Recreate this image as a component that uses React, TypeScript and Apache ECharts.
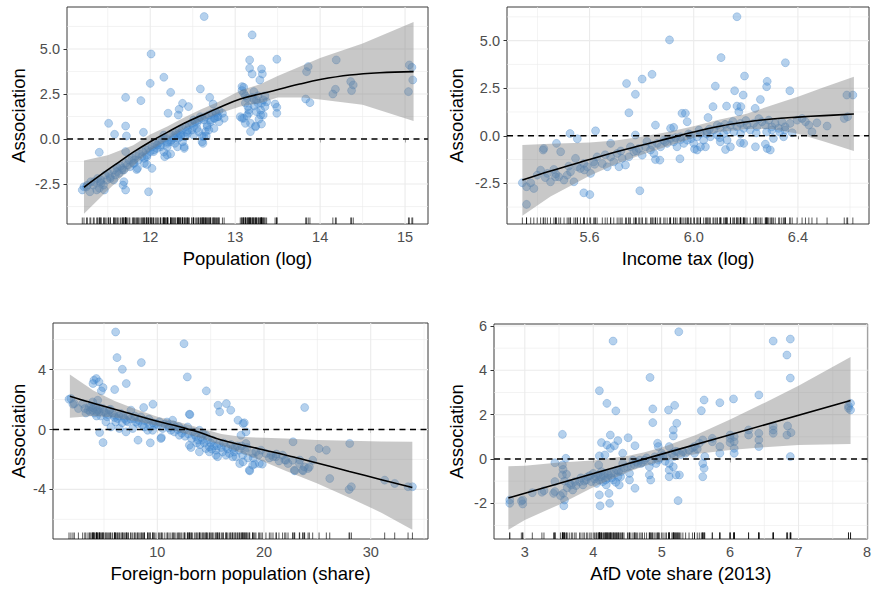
import React, { useEffect, useRef } from "react";
import * as echarts from "echarts";

type Pt = [number, number];

// ---------- Panel 1: Population (log) ----------
const popPoints: Pt[] = [
  [11.2, -2.83], [11.22, -2.65], [11.3, -2.37], [11.4, -2.74], [11.46, -2.83], [11.49, -2.28], [11.53, -2.09],
  [11.61, -1.81], [11.67, -1.63], [11.73, -1.44], [11.69, -2.37], [11.71, -2.83], [11.81, -1.17], [11.85, -1.63],
  [11.93, -1.35], [11.96, -0.98], [12.02, -1.63], [11.98, -2.93], [12.04, -0.61], [12.08, -0.33], [12.16, -0.71],
  [12.2, -0.43], [12.24, -0.15], [12.2, -0.89], [12.32, -0.43], [12.4, -0.43], [12.38, -0.15], [12.36, 0.13],
  [12.44, 0.31], [12.49, 0.5], [12.55, 0.59], [12.61, -0.15], [12.63, 0.13], [12.67, 0.68], [12.71, 1.06],
  [12.75, 1.15], [12.79, 1.24], [12.81, 0.96], [12.65, 0.41], [12.51, 0.22], [12.32, 0.22], [12.16, 0.22],
  [12.635, 6.8], [13.2, 5.78], [12.01, 4.72], [12.0, 3.09], [12.16, 3.43], [12.24, 2.59], [11.89, 2.13],
  [11.71, 2.31], [12.59, 2.78], [12.7, 2.31], [12.38, 1.98], [12.34, 1.65], [12.45, 1.8], [12.33, 1.33],
  [12.21, 1.43], [12.74, 1.94], [11.51, 0.87], [11.71, 0.72], [11.58, 0.26], [11.72, 0.17], [11.92, 0.37],
  [11.4, -0.74], [11.71, -0.7], [11.68, -2.56], [11.84, -1.69], [11.96, -1.41], [12.16, 0.04], [12.17, -0.98],
  [12.24, -0.83], [12.4, -0.52], [12.62, -0.24], [12.61, 0.17], [12.66, 0.17],
  [13.08, 2.91], [13.1, 2.54], [13.22, 2.17], [13.27, 1.98], [13.16, 1.43], [13.08, 1.15], [13.18, 0.87],
  [13.24, 0.68], [13.3, 1.33], [13.18, 0.41], [13.08, 2.69], [13.1, 2.87], [13.17, 3.93], [13.17, 4.39],
  [13.2, 3.61], [13.29, 3.28], [13.31, 3.89], [13.32, 3.61], [13.22, 2.63], [13.14, 2.26], [13.25, 2.17],
  [13.33, 2.17], [13.37, 2.07], [13.31, 1.98], [13.22, 1.83], [13.16, 1.61], [13.1, 1.15], [13.06, 1.24],
  [13.12, 0.87], [13.24, 0.72], [13.31, 0.83], [13.33, 1.33], [13.25, 1.52], [13.49, 4.43], [13.47, 1.94],
  [13.49, 1.76], [13.49, 1.43], [13.84, 3.74], [13.86, 4.02], [13.83, 2.22], [13.88, 2.02], [14.19, 4.39],
  [14.18, 2.76], [14.15, 2.5], [14.36, 3.19], [14.39, 3.0], [14.37, 2.69], [15.05, 4.11], [15.08, 3.98],
  [15.09, 3.28], [15.04, 2.63],
  [12.51, 1.06], [12.55, 0.87], [12.59, 1.24], [12.63, 1.06], [12.67, 0.78], [12.71, 0.96], [12.76, 1.15],
  [12.78, 1.43], [12.8, 1.24], [12.43, 0.41], [12.41, 0.13], [12.57, 0.41], [12.69, 0.5], [12.75, 0.59],
  [11.25, -2.65], [11.33, -2.56], [11.41, -2.37], [11.45, -2.56], [11.59, -2.0], [11.63, -1.91], [11.67, -1.72],
  [11.37, -2.83], [11.29, -2.93], [11.57, -2.28], [11.76, -1.54], [11.8, -1.35], [11.86, -1.17], [11.9, -0.98],
  [11.96, -0.89], [12.0, -0.7], [12.08, -0.52], [12.12, -0.33], [12.2, -0.15], [12.25, -0.06], [12.29, -0.24],
  [12.33, 0.04], [12.35, 0.31], [12.27, 0.13],
  [11.26, -2.56], [11.34, -2.37], [11.38, -2.19], [11.42, -2.28], [11.47, -2.0], [11.51, -1.91], [11.57, -1.72],
  [11.61, -1.57], [11.65, -1.5], [11.71, -1.35], [11.75, -1.17], [11.79, -1.07], [11.83, -0.94], [11.87, -0.83],
  [11.91, -0.7], [11.95, -0.61], [11.98, -0.52], [12.02, -0.43], [12.06, -0.28], [12.1, -0.2], [12.14, -0.06],
  [12.18, 0.04], [12.26, 0.22], [12.3, 0.32], [12.34, 0.5], [12.38, 0.54], [12.42, 0.69], [12.46, 0.78],
  [12.49, 0.87], [12.53, 0.96], [12.57, 1.06], [12.61, 1.15], [12.65, 1.24], [12.69, 1.33], [12.73, 1.43],
  [12.77, 1.5], [12.81, 1.57], [12.85, 1.43], [12.87, 1.15], [12.51, 0.69], [12.44, 0.5], [12.36, 0.22],
  [12.28, 0.04], [12.2, -0.24], [12.12, -0.43], [12.04, -0.7], [11.93, -1.07], [11.81, -1.35], [11.69, -1.72],
  [11.53, -2.19], [11.42, -2.46],
  [13.12, 2.0], [13.15, 1.8], [13.2, 2.3], [13.27, 2.4], [13.35, 1.8], [13.3, 1.6], [13.14, 1.3], [13.28, 1.1],
  [13.35, 2.4], [13.12, 2.4],
];
const popFitX = [11.22, 11.4, 11.61, 11.8, 12.0, 12.2, 12.4, 12.6, 12.79, 13.06, 13.38, 13.76, 14.0, 14.35, 14.7, 15.1];
const popFit = [-2.68, -2.05, -1.35, -0.73, -0.15, 0.37, 0.87, 1.3, 1.7, 2.22, 2.6, 3.05, 3.3, 3.55, 3.68, 3.74];
const popBandX = [11.22, 11.5, 11.8, 12.0, 12.2, 12.4, 12.6, 12.8, 13.06, 13.3, 13.5, 13.8, 14.0, 14.5, 15.1];
const popLower = [-4.15, -2.85, -1.5, -0.65, -0.05, 0.55, 1.0, 1.4, 1.8, 2.0, 2.3, 2.3, 2.2, 1.9, 1.0];
const popUpper = [-1.2, -0.9, -0.35, 0.25, 0.7, 1.2, 1.65, 2.05, 2.7, 3.05, 3.5, 4.1, 4.5, 5.3, 6.5];
const popXTicks = [12, 13, 14, 15];
const popXMinor = [11.5, 12.5, 13.5, 14.5];
const popYTicks = [-2.5, 0, 2.5, 5];
const popYMinor = [-3.75, -1.25, 1.25, 3.75, 6.25];

// ---------- Panel 2: Income tax (log) ----------
const taxPoints: Pt[] = [
  [6.166, 6.26], [5.907, 5.04], [6.105, 4.11], [6.352, 3.84], [5.84, 3.23], [5.802, 2.98], [5.742, 2.75],
  [5.776, 2.18], [5.751, 1.21], [6.195, 3.14], [6.157, 2.37], [6.19, 2.14], [6.282, 2.86], [6.28, 2.58],
  [6.256, 1.91], [6.083, 2.61], [6.369, 2.37], [6.588, 2.14], [6.611, 2.14], [6.074, 1.53], [6.126, 1.56],
  [6.166, 1.56], [6.181, 1.53], [6.173, 1.26], [5.955, 1.18], [5.968, 1.18], [5.975, 0.74], [6.055, 0.96],
  [6.236, 1.44], [5.853, 0.56], [5.911, 0.39], [5.923, 0.44], [5.776, 0.04], [5.623, 0.26], [5.525, 0.12],
  [5.553, -0.16], [5.473, -0.4], [5.424, -0.67], [5.422, -0.75], [5.489, -0.84], [5.342, -2.47], [5.358, -2.68],
  [5.386, -2.77], [5.358, -3.61], [5.578, -3.0], [5.601, -3.09], [5.793, -2.89], [5.947, -1.21], [6.045, -0.58],
  [6.003, -0.7], [5.853, -1.25], [5.87, -1.28], [6.122, -0.72], [6.179, -0.37], [6.192, -0.4], [6.237, -0.58],
  [6.275, -0.44], [6.282, -0.67], [6.294, -0.75], [6.378, 0.16], [6.454, 0.21],
  [5.412, -1.81], [5.438, -1.98], [5.463, -1.77], [5.482, -2.16], [5.502, -2.33], [5.514, -2.07], [5.527, -1.89],
  [5.54, -2.42], [5.553, -1.63], [5.565, -1.72], [5.546, -1.19], [5.578, -1.46], [5.591, -1.63], [5.604, -1.98],
  [5.616, -1.37], [5.629, -1.11], [5.649, -1.46], [5.668, -1.63], [5.681, -1.11], [5.693, -1.37], [5.706, -0.93],
  [5.713, -1.63], [5.725, -1.19], [5.738, -1.54], [5.751, -1.11], [5.757, -0.58], [5.77, -0.84], [5.789, -0.67],
  [5.802, -1.02], [5.815, -0.58], [5.834, -0.75], [5.847, -0.93], [5.86, -0.4], [5.873, -0.58], [5.885, -0.23],
  [5.898, -0.4], [5.911, -0.14], [5.923, -0.32], [5.936, -0.58], [5.949, -0.05], [5.962, -0.4], [5.975, -0.23],
  [5.987, 0.04], [6.0, -0.4], [6.013, -0.05], [6.026, 0.12], [6.038, -0.23], [6.051, 0.21], [6.064, -0.05],
  [6.077, 0.3], [6.09, 0.04], [6.102, 0.47], [6.115, 0.12], [6.128, 0.3], [6.141, 0.56], [6.154, 0.21],
  [6.166, 0.47], [6.179, 0.65], [6.192, 0.39], [6.205, 0.56], [6.217, 0.3], [6.23, 0.65], [6.243, 0.47],
  [6.262, 0.74], [6.275, 0.56], [6.288, 0.82], [6.3, 0.47], [6.313, 0.65], [6.326, 0.39], [6.338, 0.74],
  [6.351, 0.47], [6.37, 0.65], [6.397, 0.82], [6.416, 0.91], [6.429, 0.74], [6.442, 0.56], [6.473, 0.68],
  [6.512, 0.51], [6.578, 0.91], [6.591, 1.0], [5.374, -2.47], [5.399, -2.07], [5.45, -2.42], [5.469, -2.16],
  [5.681, -0.4], [6.306, -0.14], [6.345, -0.05], [6.128, -0.23], [6.141, -0.58], [6.102, -0.32], [6.013, -0.75],
  [6.026, -0.58],
  [5.95, -0.2], [5.98, 0.1], [6.02, 0.3], [6.06, 0.35], [6.09, 0.55], [6.12, 0.6], [6.15, 0.75], [6.2, 0.8],
  [6.25, 0.9], [6.3, 0.3], [6.33, 0.2], [6.18, 0.1], [6.1, -0.1], [6.05, 0.1], [5.99, -0.15], [5.93, -0.1],
  [5.89, -0.3], [5.84, -0.5], [5.82, -0.3], [5.78, -0.8], [5.72, -0.8], [5.66, -1.0], [5.62, -1.5], [5.58, -1.8],
  [5.52, -1.6], [5.47, -2.0], [5.43, -2.2], [6.35, 0.3], [6.28, 0.2], [6.24, 0.15],
];
const taxFitX = [5.342, 5.45, 5.6, 5.7, 5.8, 5.9, 6.0, 6.1, 6.2, 6.3, 6.4, 6.5, 6.615];
const taxFit = [-2.33, -1.85, -1.25, -0.85, -0.5, -0.15, 0.2, 0.5, 0.72, 0.88, 0.98, 1.06, 1.14];
const taxBandX = [5.342, 5.45, 5.6, 5.7, 5.8, 5.9, 6.0, 6.1, 6.2, 6.3, 6.4, 6.5, 6.615];
const taxLower = [-4.2, -3.2, -2.1, -1.5, -1.0, -0.55, -0.1, 0.2, 0.35, 0.35, 0.1, -0.3, -0.8];
const taxUpper = [-0.48, -0.42, -0.35, -0.25, -0.05, 0.2, 0.5, 0.85, 1.15, 1.6, 2.05, 2.55, 3.1];
const taxXTicks = [5.6, 6.0, 6.4];
const taxXMinor = [5.4, 5.8, 6.2, 6.6];
const taxYTicks = [-2.5, 0, 2.5, 5];
const taxYMinor = [-3.75, -1.25, 1.25, 3.75, 6.25];

// ---------- Panel 3: Foreign-born population (share) ----------
const forPoints: Pt[] = [
  [6.09, 6.51], [6.22, 4.8], [6.72, 4.02], [8.5, 4.47], [7.09, 3.07], [6.0, 2.67], [12.5, 5.73], [12.81, 3.51],
  [14.59, 2.58], [13.0, 1.02], [13.05, 1.0], [15.69, 1.62], [16.47, 1.73], [15.84, 1.18], [16.88, 1.29],
  [23.81, 1.47], [17.56, 0.62], [18.03, 0.4], [22.72, -0.82], [28.03, -0.93], [25.16, -1.27], [25.84, -1.38],
  [26.16, -3.27], [27.97, -4.0], [28.19, -3.82], [31.31, -3.38], [32.25, -3.6], [33.5, -3.82], [33.91, -3.82],
  [4.91, -0.87], [4.59, -0.2], [8.19, -0.71], [9.34, -0.89], [10.38, -0.53], [8.72, 1.47], [9.59, 1.69],
  [1.72, 2.02], [2.09, 1.69], [4.06, 3.29], [4.28, 3.4], [3.97, 3.07], [4.53, 3.18], [4.91, 2.8], [4.75, 2.58],
  [23.34, -2.04], [23.66, -2.76], [24.13, -2.6], [22.88, -2.76], [22.25, -2.27], [17.72, -2.27], [18.03, -2.16],
  [18.66, -2.76], [19.13, -2.31], [19.84, -2.31], [20.84, -1.82], [21.16, -1.64], [21.94, -2.04],
  [1.9, 2.07], [2.22, 1.73], [3.0, 1.73], [3.63, 1.51], [3.94, 1.29], [4.25, 1.51], [4.56, 1.17], [4.87, 1.4],
  [5.18, 1.07], [5.5, 1.29], [5.97, 0.95], [6.28, 0.73], [6.59, 1.07], [6.91, 0.73], [7.22, 0.51], [7.53, 1.29],
  [7.84, 0.73], [8.15, 0.4], [8.46, 0.84], [8.78, 0.17], [9.09, 0.51], [9.72, 0.29], [10.19, 0.51], [10.5, 0.07],
  [10.97, 0.29], [11.43, 0.62], [11.74, 0.17], [12.06, -0.38], [12.53, -0.05], [12.84, 0.17], [13.31, -0.16],
  [13.62, -0.49], [13.94, -0.05], [14.25, -0.71], [14.56, -0.38], [14.87, -1.16], [15.18, -0.71], [15.49, -1.38],
  [15.81, -0.93], [16.12, -1.49], [16.43, -1.16], [16.75, -1.6], [17.06, -1.27], [17.37, -1.82], [17.68, -1.38],
  [18.0, -1.71], [18.31, -0.93], [18.15, 0.45], [18.31, -0.16], [17.84, -0.38], [13.0, -1.05], [13.15, -1.2],
  [13.94, -1.49], [14.56, -1.27], [14.87, -1.49], [15.49, -1.71], [15.65, -1.82], [16.43, -1.71], [17.06, -1.82],
  [18.93, -1.6], [19.24, -1.49], [19.71, -1.38], [20.18, -1.6], [20.65, -1.71], [21.12, -1.82], [21.74, -1.71],
  [22.05, -2.05], [22.68, -2.05], [23.31, -2.27], [23.78, -2.49], [24.25, -2.49], [24.56, -2.05], [22.84, -2.71],
  [23.62, -2.71], [19.56, -2.27], [18.93, -2.38], [18.62, -2.71], [10.34, -0.6], [7.06, -0.16], [6.44, 0.07],
  [7.69, 0.07], [9.09, -0.05], [5.18, 0.51], [5.65, 0.17], [3.94, 1.84], [4.41, 1.95], [11.59, -0.16],
  [11.27, -0.05], [9.56, -0.05], [9.87, 0.4],
  [3.5, 1.3], [3.8, 1.55], [4.1, 1.1], [4.4, 1.3], [4.7, 0.9], [5.3, 0.85], [5.8, 1.1], [6.1, 0.5], [6.7, 0.45],
  [7.3, 0.9], [8.0, 0.5], [8.6, 0.3], [9.3, 0.25], [10.7, 0.35], [11.1, 0.1], [12.2, 0.05], [12.9, -0.3],
  [13.5, -0.35], [14.1, -0.5], [14.4, -0.9], [15.0, -0.9], [15.3, -1.1], [16.0, -1.2], [16.6, -1.3], [17.2, -1.5],
  [17.5, -1.1], [18.2, -1.4], [18.5, -1.9], [19.0, -1.9], [12.3, -0.25], [11.9, 0.0], [13.7, -0.9], [14.0, -1.0],
  [3.2, 1.4], [3.7, 1.2], [4.0, 1.45], [4.3, 1.2], [4.6, 1.45], [5.0, 1.2], [5.4, 1.0], [5.6, 1.35], [6.0, 0.8],
  [6.4, 0.9], [6.8, 0.9], [7.1, 0.6], [7.5, 0.7], [7.9, 0.9], [8.3, 0.6], [8.8, 0.6], [9.2, 0.7], [9.6, 0.45],
  [10.1, 0.3], [10.9, 0.5], [11.5, 0.3], [12.0, 0.2], [12.6, -0.45], [13.2, -0.6], [13.8, -0.7], [14.3, -0.3],
  [14.7, -0.7], [15.1, -1.3], [15.6, -1.1], [16.2, -0.9], [16.9, -1.0], [17.3, -1.2], [17.9, -1.1], [18.4, -1.2],
  [19.5, -1.7], [20.5, -1.9], [21.4, -2.1], [4.3, 0.9], [3.3, 1.1], [2.6, 1.4],
];
const forFitX = [1.8, 4, 6, 8, 10, 12, 13, 14, 16, 18, 19, 20, 22, 24.5, 28, 31, 33.9];
const forFit = [2.22, 1.75, 1.35, 0.95, 0.55, 0.2, 0.0, -0.2, -0.7, -1.05, -1.2, -1.37, -1.7, -2.15, -2.8, -3.35, -3.87];
const forBandX = [1.8, 4, 6, 8, 10, 12, 14, 16, 18, 20, 22, 25, 28, 31, 33.9];
const forLower = [0.78, 0.9, 0.8, 0.55, 0.25, -0.15, -0.55, -1.05, -1.6, -2.15, -2.75, -3.6, -4.55, -5.55, -6.7];
const forUpper = [3.67, 2.6, 1.9, 1.35, 0.85, 0.5, 0.1, -0.3, -0.5, -0.55, -0.6, -0.7, -0.75, -0.8, -0.82];
const forXTicks = [10, 20, 30];
const forXMinor = [5, 15, 25, 35];
const forYTicks = [-4, 0, 4];
const forYMinor = [-6, -2, 2, 6];

// ---------- Panel 4: AfD vote share (2013) ----------
const afdPoints: Pt[] = [
  [5.25, 5.74], [4.29, 5.32], [6.63, 5.32], [6.88, 5.41], [6.83, 4.69], [6.88, 3.65], [4.83, 3.68], [4.09, 3.08],
  [4.2, 2.51], [4.33, 2.17], [4.87, 2.26], [4.87, 1.64], [5.1, 2.21], [5.19, 2.42], [5.62, 2.66], [5.58, 2.18],
  [5.85, 2.54], [6.05, 2.71], [6.42, 2.89], [3.55, 1.11], [4.25, 1.08], [4.12, 0.74], [4.2, 0.63], [4.25, 0.48],
  [4.36, 0.83], [4.31, 0.6], [4.51, 0.96], [4.61, 0.6], [4.94, 0.71], [4.95, 0.56], [5.11, 0.56], [5.17, 1.31],
  [5.17, 1.04], [5.22, 1.61], [4.09, -1.62], [4.1, -2.11], [4.24, -2.0], [4.23, -1.55], [5.24, -1.88],
  [4.61, -1.32], [5.6, -0.8], [5.62, -0.42], [5.6, -0.2], [5.63, 0.11], [6.88, 0.11], [6.83, 1.08], [6.89, 1.19],
  [6.84, 1.49], [6.63, 1.49], [6.63, 1.31], [6.63, 1.16], [6.42, 1.16], [6.42, 0.86], [6.42, 0.56], [6.27, 1.31],
  [6.27, 1.08], [6.06, 1.01], [6.06, 0.78], [6.06, 0.48], [6.06, 0.26], [6.0, 1.08], [6.0, 0.93], [6.0, 0.74],
  [5.85, 0.56], [5.85, 0.26], [5.74, 0.93], [5.74, 0.78], [5.6, 0.86], [5.48, 0.56], [5.48, 0.26], [5.55, 0.71],
  [7.76, 2.51], [7.73, 2.29], [7.76, 2.21], [7.73, 2.39],
  [2.78, -1.85], [2.78, -2.0], [2.97, -1.85], [2.97, -2.03], [3.11, -1.52], [3.28, -1.43], [3.44, -1.47],
  [3.44, -1.02], [3.44, -0.17], [3.55, -0.27], [3.56, -0.47], [3.55, -0.72], [3.56, -1.55], [3.58, -1.85],
  [3.57, -2.11], [3.6, 0.03], [3.61, -0.69], [3.68, -1.17], [3.7, -1.4], [3.73, -1.02], [3.8, -1.02],
  [3.85, -1.17], [3.9, -0.95], [3.92, -0.8], [3.97, -1.02], [4.0, -0.65], [4.04, -0.8], [4.07, -0.72],
  [4.09, -0.95], [4.12, -0.57], [4.14, -1.02], [4.17, -0.65], [4.19, -1.17], [4.21, -0.87], [4.26, -0.65],
  [4.29, -0.95], [4.34, -0.5], [4.36, -0.8], [4.38, -1.17], [4.41, -0.57], [4.09, 0.14], [4.17, 0.18],
  [4.08, -0.27], [4.43, -0.2], [4.5, -0.35], [4.53, -0.65], [4.53, -0.95], [4.58, -0.05], [4.63, -0.12],
  [4.7, -0.2], [4.75, -0.05], [4.82, -0.35], [4.82, -0.72], [4.84, -0.95], [4.92, -0.2], [4.97, 0.03],
  [5.0, 0.26], [5.07, 0.11], [5.11, -0.2], [5.11, -0.5], [5.11, -0.8], [5.17, -0.35], [5.18, 0.11], [5.23, 0.33],
  [5.26, -0.72], [5.31, 0.33], [5.35, 0.26], [5.21, -0.72], [4.43, 0.26],
  [3.65, -1.1], [3.75, -1.2], [3.82, -0.85], [3.87, -1.0], [3.95, -0.75], [4.02, -0.9], [4.05, -1.1], [4.11, -0.8],
  [4.15, -0.75], [4.18, -0.95], [4.22, -0.7], [4.27, -0.85], [4.3, -0.6], [4.33, -1.05], [4.37, -0.55], [4.4, -0.8],
  [4.45, -0.4], [4.55, -0.3], [4.6, -0.25], [4.65, -0.2], [4.68, -0.05], [4.72, -0.15], [4.78, 0.05], [4.85, -0.1],
  [4.9, 0.1], [4.95, -0.05], [5.02, 0.15], [5.05, -0.1], [5.15, 0.25], [5.2, 0.35], [5.28, 0.2], [5.4, 0.4],
  [5.45, 0.5], [5.52, 0.45], [3.58, -1.0], [3.62, -1.3], [3.52, -1.65], [3.42, -1.55], [3.25, -1.5], [2.95, -1.9],
];
const afdFitX = [2.76, 5.0, 7.76];
const afdFit = [-1.76, 0.22, 2.64];
const afdBandX = [2.76, 3.0, 3.5, 4.0, 4.5, 4.75, 5.0, 5.5, 6.0, 6.5, 7.0, 7.76];
const afdLower = [-3.19, -2.75, -2.06, -1.27, -0.6, -0.32, -0.1, 0.22, 0.4, 0.53, 0.63, 0.68];
const afdUpper = [-0.33, -0.3, -0.16, -0.07, 0.14, 0.3, 0.52, 1.08, 1.78, 2.53, 3.3, 4.6];
const afdXTicks = [3, 4, 5, 6, 7, 8];
const afdXMinor = [3.5, 4.5, 5.5, 6.5, 7.5];
const afdYTicks = [-2, 0, 2, 4, 6];
const afdYMinor = [-3, -1, 1, 3, 5];

const FONT = "'Liberation Sans', Arial, Helvetica, sans-serif";

interface PanelCfg {
  grid: { left: number; top: number; width: number; height: number };
  xMin: number; xMax: number; yMin: number; yMax: number;
  xTicks: number[]; xMinor: number[]; yTicks: number[]; yMinor: number[];
  xDec: number; yDec: number; xName: string; yNameGap: number;
  points: Pt[]; fitX: number[]; fit: number[]; bandX: number[]; lower: number[]; upper: number[];
}

const panels: PanelCfg[] = [
  {
    grid: { left: 67, top: 7, width: 361, height: 217 },
    xMin: 11.02, xMax: 15.27, yMin: -4.72, yMax: 7.33,
    xTicks: popXTicks, xMinor: popXMinor, yTicks: popYTicks, yMinor: popYMinor,
    xDec: 0, yDec: 1, xName: "Population (log)", yNameGap: 39,
    points: popPoints, fitX: popFitX, fit: popFit, bandX: popBandX, lower: popLower, upper: popUpper,
  },
  {
    grid: { left: 507, top: 7, width: 362, height: 217 },
    xMin: 5.283, xMax: 6.673, yMin: -4.64, yMax: 6.77,
    xTicks: taxXTicks, xMinor: taxXMinor, yTicks: taxYTicks, yMinor: taxYMinor,
    xDec: 1, yDec: 1, xName: "Income tax (log)", yNameGap: 41,
    points: taxPoints, fitX: taxFitX, fit: taxFit, bandX: taxBandX, lower: taxLower, upper: taxUpper,
  },
  {
    grid: { left: 53, top: 323, width: 375, height: 216 },
    xMin: 0.22, xMax: 35.37, yMin: -7.31, yMax: 7.11,
    xTicks: forXTicks, xMinor: forXMinor, yTicks: forYTicks, yMinor: forYMinor,
    xDec: 0, yDec: 0, xName: "Foreign-born population (share)", yNameGap: 25,
    points: forPoints, fitX: forFitX, fit: forFit, bandX: forBandX, lower: forLower, upper: forUpper,
  },
  {
    grid: { left: 494, top: 324, width: 375, height: 215 },
    xMin: 2.55, xMax: 8.01, yMin: -3.61, yMax: 6.09,
    xTicks: afdXTicks, xMinor: afdXMinor, yTicks: afdYTicks, yMinor: afdYMinor,
    xDec: 0, yDec: 0, xName: "AfD vote share (2013)", yNameGap: 28,
    points: afdPoints, fitX: afdFitX, fit: afdFit, bandX: afdBandX, lower: afdLower, upper: afdUpper,
  },
];

function buildOption() {
  const grids: any[] = [];
  const xAxes: any[] = [];
  const yAxes: any[] = [];
  const series: any[] = [];

  panels.forEach((p, i) => {
    grids.push({ ...p.grid, show: true, borderColor: "#3a3a3a", borderWidth: 1, backgroundColor: "#fff", containLabel: false });
    xAxes.push({
      gridIndex: i, type: "value", min: p.xMin, max: p.xMax,
      axisLine: { show: false }, splitLine: { show: false },
      axisTick: { show: true, customValues: p.xTicks, length: 3.5, lineStyle: { color: "#333", width: 1 } },
      axisLabel: {
        customValues: p.xTicks, color: "#4d4d4d", fontSize: 14.5, fontFamily: FONT, margin: 5,
        formatter: (v: number) => v.toFixed(p.xDec),
      },
      name: p.xName, nameLocation: "middle", nameGap: 25,
      nameTextStyle: { fontSize: 18.5, color: "#000", fontFamily: FONT },
    });
    yAxes.push({
      gridIndex: i, type: "value", min: p.yMin, max: p.yMax,
      axisLine: { show: false }, splitLine: { show: false },
      axisTick: { show: true, customValues: p.yTicks, length: 3.5, lineStyle: { color: "#333", width: 1 } },
      axisLabel: {
        customValues: p.yTicks, color: "#4d4d4d", fontSize: 14.5, fontFamily: FONT, margin: 7,
        formatter: (v: number) => v.toFixed(p.yDec),
      },
      name: "Association", nameLocation: "middle", nameGap: p.yNameGap,
      nameTextStyle: { fontSize: 18.5, color: "#000", fontFamily: FONT },
    });

    // grid lines
    series.push({
      type: "custom", xAxisIndex: i, yAxisIndex: i, z: 1, silent: true,
      data: [[p.xMin, p.yMin]],
      renderItem: (_params: any, api: any) => {
        const children: any[] = [];
        const top = api.coord([p.xMin, p.yMax])[1];
        const bot = api.coord([p.xMin, p.yMin])[1];
        const lft = api.coord([p.xMin, p.yMin])[0];
        const rgt = api.coord([p.xMax, p.yMin])[0];
        const vline = (v: number, w: number) => {
          const x = api.coord([v, p.yMin])[0];
          if (x <= lft || x >= rgt) return;
          children.push({ type: "line", shape: { x1: x, y1: top, x2: x, y2: bot }, style: { stroke: "#ebebeb", lineWidth: w } });
        };
        const hline = (v: number, w: number) => {
          const y = api.coord([p.xMin, v])[1];
          if (y <= top || y >= bot) return;
          children.push({ type: "line", shape: { x1: lft, y1: y, x2: rgt, y2: y }, style: { stroke: "#ebebeb", lineWidth: w } });
        };
        p.xMinor.forEach((v) => vline(v, 0.6));
        p.yMinor.forEach((v) => hline(v, 0.6));
        p.xTicks.forEach((v) => vline(v, 1.1));
        p.yTicks.forEach((v) => hline(v, 1.1));
        return { type: "group", children };
      },
    });

    // points
    series.push({
      type: "scatter", xAxisIndex: i, yAxisIndex: i, z: 2, silent: true,
      data: p.points, symbolSize: 8,
      itemStyle: { color: "rgba(70,140,210,0.5)", borderColor: "rgba(60,125,195,0.45)", borderWidth: 0.8 },
    });

    // confidence band
    series.push({
      type: "custom", xAxisIndex: i, yAxisIndex: i, z: 3, silent: true,
      data: [[p.xMin, p.yMin]],
      renderItem: (_params: any, api: any) => {
        const up = p.bandX.map((x, k) => api.coord([x, p.upper[k]]));
        const lo = p.bandX.map((x, k) => api.coord([x, p.lower[k]])).reverse();
        return { type: "polygon", shape: { points: up.concat(lo) }, style: { fill: "rgba(125,125,125,0.42)" } };
      },
    });

    // fitted line
    series.push({
      type: "line", xAxisIndex: i, yAxisIndex: i, z: 4, silent: true,
      data: p.fitX.map((x, k) => [x, p.fit[k]]),
      smooth: 0.4, showSymbol: false, symbol: "none",
      lineStyle: { color: "#000", width: 1.6 },
    });

    // zero dashed line
    series.push({
      type: "custom", xAxisIndex: i, yAxisIndex: i, z: 5, silent: true,
      data: [[p.xMin, 0]],
      renderItem: (_params: any, api: any) => {
        const a = api.coord([p.xMin, 0]);
        const b = api.coord([p.xMax, 0]);
        return { type: "line", shape: { x1: a[0], y1: a[1], x2: b[0], y2: b[1] }, style: { stroke: "#000", lineWidth: 1.3, lineDash: [6, 4.5] } };
      },
    });

    // rug
    series.push({
      type: "custom", xAxisIndex: i, yAxisIndex: i, z: 6, silent: true,
      data: p.points.map((pt) => [pt[0], p.yMin]),
      renderItem: (_params: any, api: any) => {
        const c = api.coord([api.value(0), p.yMin]);
        return { type: "line", shape: { x1: c[0], y1: c[1], x2: c[0], y2: c[1] - 6.5 }, style: { stroke: "rgba(0,0,0,0.65)", lineWidth: 1 } };
      },
    });
  });

  return {
    animation: false,
    backgroundColor: "#fff",
    textStyle: { fontFamily: FONT },
    grid: grids,
    xAxis: xAxes,
    yAxis: yAxes,
    series,
  };
}

export default function App() {
  const ref = useRef<HTMLDivElement>(null);
  useEffect(() => {
    document.body.style.margin = "0";
    if (!ref.current) return;
    const chart = echarts.init(ref.current, undefined, { renderer: "svg" });
    chart.setOption(buildOption() as any);
    return () => chart.dispose();
  }, []);
  return <div ref={ref} style={{ width: 874, height: 589 }} />;
}
